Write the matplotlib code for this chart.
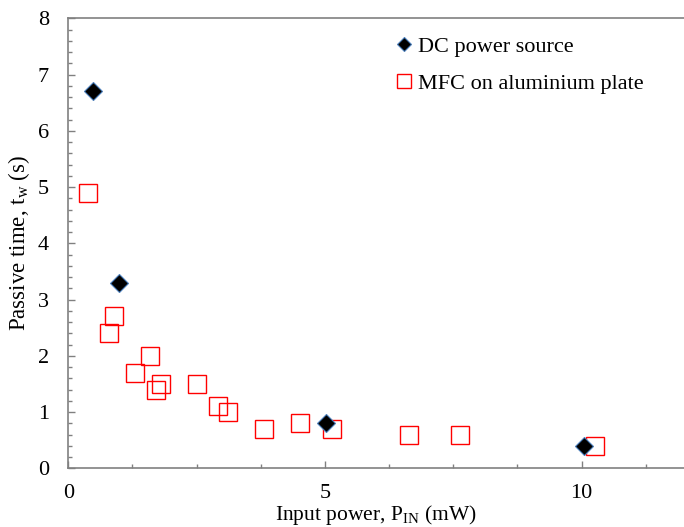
import matplotlib
matplotlib.use("Agg")
import matplotlib.pyplot as plt
from matplotlib.ticker import MultipleLocator

plt.rcParams['font.family'] = ['Liberation Serif', 'DejaVu Serif']
plt.rcParams['mathtext.fontset'] = 'custom'
plt.rcParams['mathtext.rm'] = 'Liberation Serif'

dc_x = [0.48, 0.99, 5.02, 10.05]
dc_y = [6.7, 3.3, 0.8, 0.4]

mfc_x = [0.38, 0.90, 0.80, 1.60, 1.30, 1.81, 1.70, 2.51, 2.91, 3.11, 3.82, 4.52, 5.13, 6.64, 7.64, 10.26]
mfc_y = [4.9, 2.7, 2.4, 2.0, 1.7, 1.5, 1.4, 1.5, 1.1, 1.0, 0.7, 0.8, 0.7, 0.6, 0.6, 0.4]

xticks = [0, 5, 10]
yticks = [0, 1, 2, 3, 4, 5, 6, 7, 8]

fig = plt.figure(figsize=(6.84, 5.27), dpi=100)
ax = fig.add_axes([68.3/684, 1-468.3/527, 616/684, (468.3-18.3)/527])

ax.plot(dc_x, dc_y, linestyle='none', marker='D', markersize=9,
        markerfacecolor='black', markeredgecolor='#4a7ebb', markeredgewidth=0.8,
        label='DC power source', zorder=3)
ax.plot(mfc_x, mfc_y, linestyle='none', marker='s', markersize=13,
        markerfacecolor='none', markeredgecolor='#ff0000', markeredgewidth=1.0,
        label='MFC on aluminium plate', zorder=2)

ax.set_xlim(0, 12)
ax.set_ylim(0, 8)
ax.set_xticks(xticks)
ax.set_yticks(yticks)
ax.xaxis.set_minor_locator(MultipleLocator(1.25))
ax.yaxis.set_minor_locator(MultipleLocator(0.2))
ax.tick_params(which='both', direction='in', colors='#808080', labelcolor='black', labelsize=16)
ax.tick_params(which='major', length=5, width=1)
ax.tick_params(which='minor', length=3, width=1)
ax.tick_params(axis='x', pad=11)
ax.tick_params(axis='y', pad=14)

for s in ['left', 'bottom', 'top']:
    ax.spines[s].set_color('#808080')
    ax.spines[s].set_linewidth(1.2)
ax.spines['right'].set_visible(False)

ax.set_xlabel(r'Input power, P$_{\mathrm{IN}}$ (mW)', fontsize=15.5, labelpad=0)
ax.set_ylabel(r'Passive time, t$_{\mathrm{w}}$ (s)', fontsize=16.5, labelpad=4)

leg = ax.legend(loc='upper left', bbox_to_anchor=(0.502, 1.005), frameon=False,
                fontsize=16, handlelength=0.6, handletextpad=0.3, labelspacing=0.75,
                markerscale=0.75)

fig.savefig('out.png', dpi=100)
